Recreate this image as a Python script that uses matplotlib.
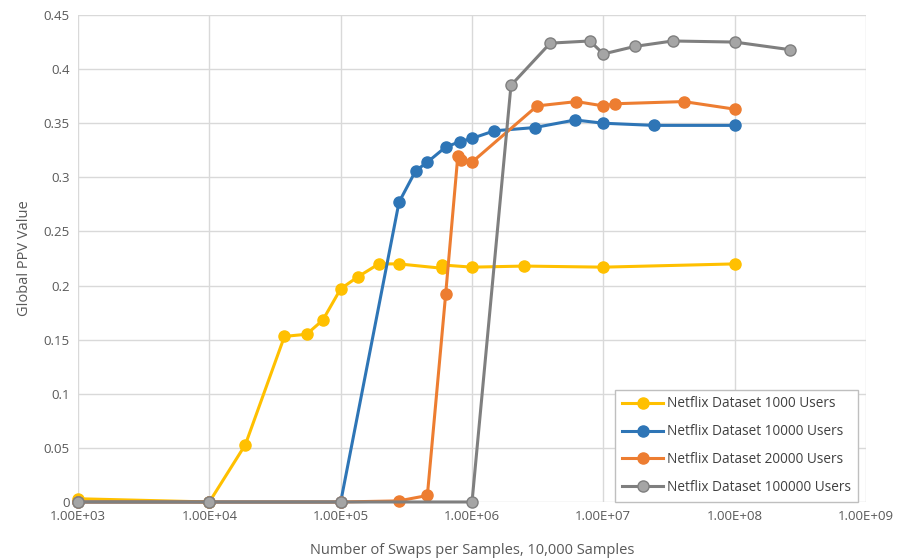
import matplotlib.pyplot as plt

plt.rcParams['font.family'] = ['Open Sans', 'DejaVu Sans']

# Data (x = swaps per sample, y = global PPV)
x_1000 = [1e3, 1e4, 1.88e4, 3.73e4, 5.5e4, 7.3e4, 1e5, 1.35e5, 1.95e5, 2.77e5,
          5.9e5, 5.95e5, 1e6, 2.5e6, 1e7, 1e8]
y_1000 = [0.003, 0.0, 0.053, 0.153, 0.155, 0.168, 0.197, 0.208, 0.220, 0.220,
          0.216, 0.219, 0.217, 0.218, 0.217, 0.220]

x_10000 = [1e3, 1e4, 1e5, 2.78e5, 3.72e5, 4.57e5, 6.3e5, 8.1e5, 1e6, 1.48e6,
           3.0e6, 6.1e6, 1e7, 2.43e7, 1e8]
y_10000 = [0.0, 0.0, 0.0, 0.277, 0.306, 0.314, 0.328, 0.333, 0.336, 0.343,
           0.346, 0.353, 0.350, 0.348, 0.348]

x_20000 = [1e3, 1e4, 1e5, 2.77e5, 4.57e5, 6.3e5, 7.8e5, 8.3e5, 1e6, 3.13e6,
           6.24e6, 1e7, 1.23e7, 4.1e7, 1e8]
y_20000 = [0.0, 0.0, 0.0, 0.001, 0.006, 0.192, 0.320, 0.316, 0.314, 0.366,
           0.370, 0.366, 0.368, 0.370, 0.363]

x_100000 = [1e3, 1e4, 1e5, 1e6, 1.98e6, 3.94e6, 7.9e6, 1e7, 1.74e7, 3.37e7,
            1e8, 2.62e8]
y_100000 = [0.0, 0.0, 0.0, 0.0, 0.385, 0.424, 0.426, 0.414, 0.421, 0.426,
            0.425, 0.418]

series = [
    ('Netflix Dataset 1000 Users', x_1000, y_1000, '#FFC000', '#FFC000', '#FFC000'),
    ('Netflix Dataset 10000 Users', x_10000, y_10000, '#2E75B6', '#2E75B6', '#2E75B6'),
    ('Netflix Dataset 20000 Users', x_20000, y_20000, '#ED7D31', '#ED7D31', '#ED7D31'),
    ('Netflix Dataset 100000 Users', x_100000, y_100000, '#7F7F7F', '#A5A5A5', '#7F7F7F'),
]

fig = plt.figure(figsize=(8.99, 5.6), dpi=100)
ax = fig.add_axes([0.0868, 0.1036, 0.8765, 0.8696])

for label, xs, ys, lc, fc, ec in series:
    ax.plot(xs, ys, color=lc, linewidth=2.2, marker='o', markersize=8,
            markerfacecolor=fc, markeredgecolor=ec, markeredgewidth=1.0,
            label=label, clip_on=False)

ax.set_xscale('log')
ax.set_xlim(1e3, 1e9)
ax.set_ylim(0, 0.45)
ax.set_xticks([1e3, 1e4, 1e5, 1e6, 1e7, 1e8, 1e9])
ax.set_xticklabels(['1.00E+03', '1.00E+04', '1.00E+05', '1.00E+06',
                    '1.00E+07', '1.00E+08', '1.00E+09'])
ax.minorticks_off()
yt = [0, 0.05, 0.1, 0.15, 0.2, 0.25, 0.3, 0.35, 0.4, 0.45]
ax.set_yticks(yt)
ax.set_yticklabels(['0', '0.05', '0.1', '0.15', '0.2', '0.25', '0.3', '0.35', '0.4', '0.45'])

ax.grid(True, color='#D9D9D9', linewidth=1.0)
ax.set_axisbelow(True)
for s in ax.spines.values():
    s.set_visible(False)
ax.tick_params(length=0, labelsize=9.5, colors='#595959', pad=6)

ax.set_xlabel('Number of Swaps per Samples, 10,000 Samples', fontsize=10.5,
              color='#595959', labelpad=14)
ax.set_ylabel('Global PPV Value', fontsize=10.5, color='#595959', labelpad=8)

leg = ax.legend(loc='lower right', fontsize=9.8, frameon=True, fancybox=False,
                edgecolor='#BFBFBF', framealpha=1, handlelength=3.0,
                borderpad=0.5, labelspacing=0.95, handletextpad=0.3,
                bbox_to_anchor=(0.9985, -0.014))
leg.set_zorder(5)
for t in leg.get_texts():
    t.set_color('#404040')

fig.savefig('out.png', dpi=100)
